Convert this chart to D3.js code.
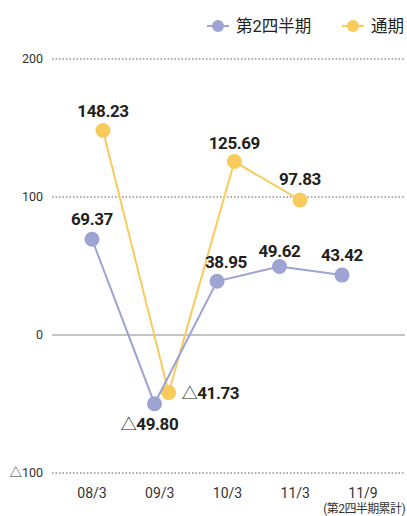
<!DOCTYPE html>
<html>
<head>
<meta charset="utf-8">
<script src="https://cdn.jsdelivr.net/npm/d3@7"></script>
<style>
  body { margin: 0; background: #fff; }
  svg { display: block; font-family: Roboto, "Noto Sans CJK JP", sans-serif; }
</style>
</head>
<body>
<div id="chart"></div>
<script>
const categories = ["08/3", "09/3", "10/3", "11/3", "11/9"];
const quarterValues = [69.37, -49.80, 38.95, 49.62, 43.42];
const annualValues = [148.23, -41.73, 125.69, 97.83];
const yTicks = [200, 100, 0, -100];
const seriesNames = ["第2四半期", "通期"];

const fmtTick = (v) => (v < 0 ? "△" : "") + Math.abs(v);

const W = 407, H = 516;
const purple = "#9da3d2", yellow = "#f9ca5c", ink = "#231f20";

const svg = d3.select("#chart").append("svg").attr("width", W).attr("height", H);

// Scales
const y = d3.scaleLinear().domain([-100, 200]).range([473, 59]);
const xLabel = d3.scalePoint().domain(categories).range([92, 363]);
const xQ = d3.scalePoint().domain(categories).range([92, 342]);
const xA = d3.scalePoint().domain(categories.slice(0, 4)).range([103, 300]);

// Gridlines
svg.append("g")
  .selectAll("line")
  .data(yTicks)
  .join("line")
  .attr("x1", 52).attr("x2", 405)
  .attr("y1", (d) => y(d)).attr("y2", (d) => y(d))
  .attr("stroke", (d) => (d === 0 ? "#8a8a8a" : "#555"))
  .attr("stroke-width", 1)
  .attr("stroke-dasharray", (d) => (d === 0 ? null : "1.5,2"));

// Y tick labels
svg.append("g")
  .selectAll("text")
  .data(yTicks)
  .join("text")
  .attr("x", 43).attr("y", (d) => y(d))
  .attr("dy", "0.35em")
  .attr("text-anchor", "end")
  .attr("font-size", 12.5)
  .attr("fill", "#333")
  .text(fmtTick);

// X labels
svg.append("g")
  .selectAll("text")
  .data(categories)
  .join("text")
  .attr("x", (d) => xLabel(d)).attr("y", 498)
  .attr("text-anchor", "middle")
  .attr("font-size", 14)
  .attr("fill", "#333")
  .text((d) => d);

svg.append("text")
  .attr("x", 405).attr("y", 513)
  .attr("text-anchor", "end")
  .attr("font-size", 12)
  .attr("fill", "#333")
  .attr("letter-spacing", -0.6)
  .text("(第2四半期累計)");

// Lines and markers
function drawSeries(values, xs, color) {
  const pts = values.map((v, i) => ({ x: xs(categories[i]), y: y(v), v }));
  svg.append("path")
    .datum(pts)
    .attr("fill", "none")
    .attr("stroke", color)
    .attr("stroke-width", 2)
    .attr("d", d3.line().x((d) => d.x).y((d) => d.y));
  svg.append("g")
    .selectAll("circle")
    .data(pts)
    .join("circle")
    .attr("cx", (d) => d.x).attr("cy", (d) => d.y)
    .attr("r", 7.5)
    .attr("fill", color);
  return pts;
}

const aPts = drawSeries(annualValues, xA, yellow);
const qPts = drawSeries(quarterValues, xQ, purple);

// Data labels: offsets per point [dx, dy, anchor]
const qLabelPos = [[0, -20, "middle"], [-5, 20, "middle"], [9, -19, "middle"], [0, -16, "middle"], [0, -20, "middle"]];
const aLabelPos = [[0, -20, "middle"], [13, 0, "start"], [0, -19, "middle"], [0, -21, "middle"]];

function drawLabels(pts, pos) {
  const t = svg.append("g")
    .selectAll("text")
    .data(pts)
    .join("text")
    .attr("x", (d, i) => d.x + pos[i][0])
    .attr("y", (d, i) => d.y + pos[i][1])
    .attr("dy", "0.36em")
    .attr("text-anchor", (d, i) => pos[i][2])
    .attr("font-size", 17)
    .attr("letter-spacing", -0.4)
    .attr("fill", ink);
  // negative values use a thin triangle prefix
  t.filter((d) => d.v < 0).append("tspan")
    .attr("font-weight", "normal")
    .attr("font-size", 16)
    .text("△");
  t.append("tspan")
    .attr("font-weight", "bold")
    .text((d) => Math.abs(d.v).toFixed(2));
}
drawLabels(qPts, qLabelPos);
drawLabels(aPts, aLabelPos);

// Legend
const legend = [
  { name: seriesNames[0], color: purple, x: 207 },
  { name: seriesNames[1], color: yellow, x: 342 },
];
const lg = svg.append("g").selectAll("g").data(legend).join("g")
  .attr("transform", (d) => `translate(${d.x},26)`);
lg.append("line").attr("x1", 0).attr("x2", 22)
  .attr("stroke", (d) => d.color).attr("stroke-width", 2);
lg.append("circle").attr("cx", 11).attr("r", 6).attr("fill", (d) => d.color);
lg.append("text").attr("x", 29).attr("dy", "0.35em")
  .attr("font-size", 16.5).attr("fill", "#231f20")
  .text((d) => d.name);
</script>
</body>
</html>
